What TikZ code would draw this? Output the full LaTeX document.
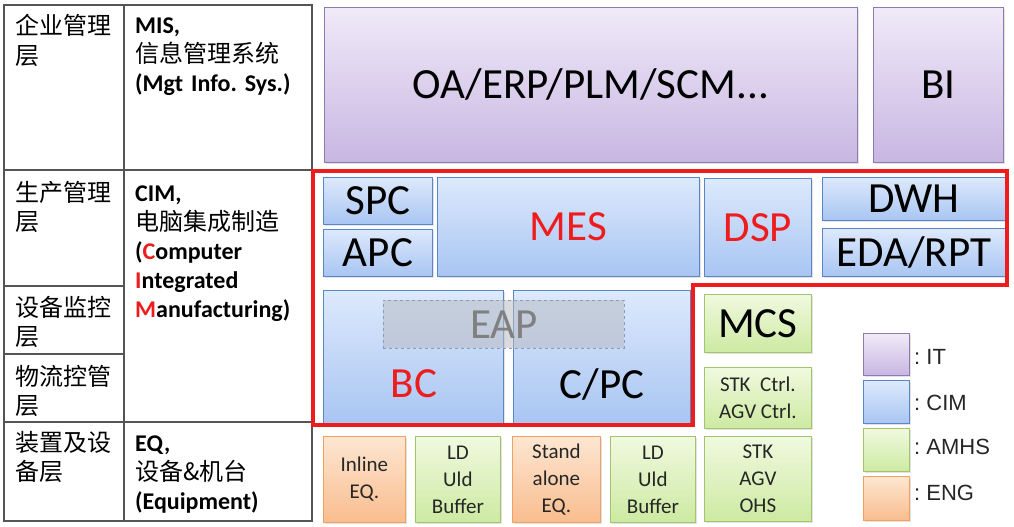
\documentclass[tikz,border=0pt]{standalone}
\usepackage{fontspec}
\setmainfont{Carlito}
\newfontfamily\cjk{Noto Sans CJK SC}
\newfontfamily\arialf{Liberation Sans}
\usetikzlibrary{shadows}
\definecolor{itTop}{HTML}{F0EAF8}
\definecolor{itBot}{HTML}{C8B6E2}
\definecolor{itLine}{HTML}{8E7BAE}
\definecolor{cimTop}{HTML}{DDE9FC}
\definecolor{cimBot}{HTML}{A8C5F2}
\definecolor{cimLine}{HTML}{5B86C6}
\definecolor{amTop}{HTML}{F0F9DF}
\definecolor{amBot}{HTML}{CDEAA2}
\definecolor{amLine}{HTML}{A2C46A}
\definecolor{enTop}{HTML}{FDE6D2}
\definecolor{enBot}{HTML}{F9BD8E}
\definecolor{enLine}{HTML}{F0A060}
\definecolor{redL}{HTML}{EE1C1C}
\definecolor{tabL}{HTML}{555555}
\definecolor{eapF}{HTML}{B8BCC4}
\definecolor{eapL}{HTML}{8C9BB8}
\begin{document}
\frenchspacing
\begin{tikzpicture}[x=1pt,y=-1pt,
  box/.style={draw, line width=0.8pt, inner sep=0pt, anchor=north west,
    drop shadow={shadow xshift=1.2pt, shadow yshift=-1.5pt, opacity=0.22}},
  itbox/.style={box, draw=itLine, top color=itTop, bottom color=itBot},
  cimbox/.style={box, draw=cimLine, top color=cimTop, bottom color=cimBot},
  ambox/.style={box, draw=amLine, top color=amTop, bottom color=amBot},
  enbox/.style={box, draw=enLine, top color=enTop, bottom color=enBot},
  bigtxt/.style={font=\fontsize{43}{43}\selectfont},
  smalltxt/.style={font=\fontsize{21}{27}\selectfont, align=center, text=black!85},
  celltxt/.style={anchor=base west, inner sep=0pt, align=left, font=\fontsize{24}{29}\selectfont},
  legtxt/.style={anchor=west, inner sep=0pt, font=\arialf\fontsize{22}{22}\selectfont, text=black!85},
  tabline/.style={draw=tabL, line width=1.4pt},
  redline/.style={draw=redL, line width=3.5pt, line join=miter}
]
\useasboundingbox (0,0) rectangle (1014,527);
\fill[white] (0,0) rectangle (1014,527);

% ---------- table ----------
\coordinate (t1) at (4,5);
\coordinate (t2) at (312,521);
\draw[tabline] (t1) rectangle (t2);
\coordinate (v1) at (124,5);
\coordinate (v2) at (124,521);
\draw[tabline] (v1) -- (v2);
\coordinate (h1a) at (4,170);   \coordinate (h1b) at (312,170);
\coordinate (h2a) at (4,286);   \coordinate (h2b) at (124,286);
\coordinate (h3a) at (4,354);   \coordinate (h3b) at (124,354);
\coordinate (h4a) at (4,422);   \coordinate (h4b) at (312,422);
\draw[tabline] (h1a) -- (h1b);
\draw[tabline] (h2a) -- (h2b);
\draw[tabline] (h3a) -- (h3b);
\draw[tabline] (h4a) -- (h4b);

\node[celltxt, text width=105] (l1) at (15,35) {\cjk 企业管理\\层};
\node[celltxt, text width=105] (l2) at (15,201) {\cjk 生产管理\\层};
\node[celltxt, text width=105] (l3) at (15,316) {\cjk 设备监控\\层};
\node[celltxt, text width=105] (l4) at (15,385) {\cjk 物流控管\\层};
\node[celltxt, text width=105] (l5) at (15,451) {\cjk 装置及设\\备层};

\node[celltxt, text width=175] (c1) at (135,34) {\textbf{MIS,}\\{\cjk 信息管理系统}\\\textbf{(Mgt Info. Sys.)}};
\node[celltxt, text width=175] (c2) at (135,201) {\textbf{CIM,}\\{\cjk 电脑集成制造}\\\textbf{({\color{redL}C}omputer}\\\textbf{{\color{redL}I}ntegrated}\\\textbf{{\color{redL}M}anufacturing)}};
\node[celltxt, text width=175] (c3) at (135,451) {\textbf{EQ,}\\{\cjk 设备\&机台}\\\textbf{(Equipment)}};

% ---------- IT ----------
\node[itbox, minimum width=533, minimum height=155, bigtxt] (oa) at (324,7) {OA/ERP/PLM/SCM...};
\node[itbox, minimum width=130, minimum height=155, bigtxt] (bi) at (873,7) {BI};

% ---------- CIM ----------
\node[cimbox, minimum width=109, minimum height=47, bigtxt] (spc) at (323,177) {SPC};
\node[cimbox, minimum width=109, minimum height=47, bigtxt] (apc) at (323,229) {APC};
\node[cimbox, minimum width=262, minimum height=99, bigtxt, text=redL] (mes) at (437,177) {MES};
\node[cimbox, minimum width=107, minimum height=98, bigtxt, text=redL] (dsp) at (704,178) {DSP};
\node[cimbox, minimum width=183, minimum height=43, bigtxt] (dwh) at (822,177) {DWH};
\node[cimbox, minimum width=183, minimum height=48, bigtxt] (eda) at (822,228) {EDA/RPT};
\node[cimbox, minimum width=180, minimum height=134] (bc) at (323,290) {};
\node[cimbox, minimum width=177, minimum height=134] (cpc) at (513,290) {};
\node[bigtxt, text=redL, inner sep=0pt] (bct) at (414,384) {BC};
\node[bigtxt, inner sep=0pt] (cpct) at (602,384) {C/PC};
\node[draw=eapL, dashed, line width=0.9pt, fill=eapF, fill opacity=0.55, text opacity=1,
      minimum width=241, minimum height=48, anchor=north west, inner sep=0pt,
      bigtxt, text=black!50] (eap) at (383,300) {EAP};

% ---------- AMHS / ENG ----------
\node[ambox, minimum width=107, minimum height=58, bigtxt] (mcs) at (704,294) {MCS};
\node[ambox, minimum width=107, minimum height=61, smalltxt] (stkc) at (704,367) {STK~~Ctrl.\\AGV Ctrl.};
\node[ambox, minimum width=107, minimum height=85, smalltxt] (stk) at (704,436) {STK\\AGV\\OHS};
\node[enbox, minimum width=82, minimum height=86, smalltxt] (inl) at (323,436) {Inline\\EQ.};
\node[ambox, minimum width=85, minimum height=86, smalltxt] (ld1) at (415,436) {LD\\Uld\\Buffer};
\node[enbox, minimum width=88, minimum height=86, smalltxt] (sa) at (512,436) {Stand\\alone\\EQ.};
\node[ambox, minimum width=85, minimum height=86, smalltxt] (ld2) at (610,436) {LD\\Uld\\Buffer};

% ---------- red outline ----------
\coordinate (r1) at (313,171);
\coordinate (r2) at (1007,171);
\coordinate (r3) at (1007,285);
\coordinate (r4) at (693,285);
\coordinate (r5) at (693,425);
\coordinate (r6) at (313,425);
\draw[redline] (r1) -- (r2) -- (r3) -- (r4) -- (r5) -- (r6) -- cycle;

% ---------- legend ----------
\node[itbox, minimum width=46, minimum height=42] (lit) at (863,333) {};
\node[cimbox, minimum width=46, minimum height=43] (lcim) at (863,380) {};
\node[ambox, minimum width=46, minimum height=43] (lam) at (863,428) {};
\node[enbox, minimum width=46, minimum height=44] (len) at (863,476) {};
\node[legtxt] (tit) at (914,357) {: IT};
\node[legtxt] (tcim) at (914,403) {: CIM};
\node[legtxt] (tam) at (914,447) {: AMHS};
\node[legtxt] (ten) at (914,493) {: ENG};
\end{tikzpicture}
\end{document}
